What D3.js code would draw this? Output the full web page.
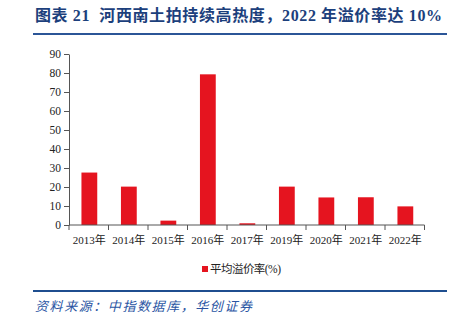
<!DOCTYPE html>
<html>
<head>
<meta charset="utf-8">
<script src="https://cdn.jsdelivr.net/npm/d3@7"></script>
<style>
  html, body { margin: 0; padding: 0; background: #fff; }
  svg { display: block; }
</style>
</head>
<body>
<svg id="chart" width="449" height="327"></svg>
<script>
// Average land-auction premium rate by year
const years = ["2013年", "2014年", "2015年", "2016年", "2017年", "2019年", "2020年", "2021年", "2022年"];
const premiumRate = [27.6, 20.2, 2.3, 79.3, 0.9, 20.2, 14.5, 14.6, 9.8];
const yTicks = [0, 10, 20, 30, 40, 50, 60, 70, 80, 90];
const seriesName = "平均溢价率(%)";
const titleText = "图表 21  河西南土拍持续高热度，2022 年溢价率达 10%";
const sourceText = "资料来源：中指数据库，华创证券";

const svg = d3.select("#chart");
const serif = "'Liberation Serif', 'Times New Roman', 'Noto Sans CJK SC', serif";
const barColor = "#e5141f";
const navy = "#1c3f7c";

// Title and rule
svg.append("text")
  .attr("x", 35).attr("y", 21)
  .attr("font-family", serif)
  .attr("font-weight", "bold")
  .attr("font-size", 16)
  .attr("fill", navy)
  .attr("textLength", 407)
  .attr("lengthAdjust", "spacing")
  .style("white-space", "pre")
  .text(titleText);

svg.append("line")
  .attr("x1", 33).attr("x2", 447).attr("y1", 34).attr("y2", 34)
  .attr("stroke", "#2b5597").attr("stroke-width", 2);

// Scales
const x = d3.scaleBand().domain(years).range([69, 424.5]).padding(0);
const y = d3.scaleLinear().domain([0, 90]).range([225, 54]);
const barW = x.bandwidth() * 0.4;

// Bars
svg.append("g").selectAll("rect")
  .data(years.map((yr, i) => ({ yr, v: premiumRate[i] })))
  .join("rect")
  .attr("x", d => x(d.yr) + (x.bandwidth() - barW) / 2 + 0.6)
  .attr("width", barW)
  .attr("y", d => y(d.v))
  .attr("height", d => y(0) - y(d.v))
  .attr("fill", barColor);

// Y axis
const yAxis = svg.append("g")
  .attr("transform", "translate(69,0)")
  .call(d3.axisLeft(y).tickValues(yTicks).tickSize(5).tickSizeOuter(0).tickPadding(3));
yAxis.select(".domain").attr("stroke", "#555");
yAxis.selectAll(".tick line").attr("stroke", "#555");
yAxis.selectAll(".tick text")
  .attr("font-family", serif).attr("font-size", 11.5).attr("fill", "#222");

// X axis with ticks on band boundaries
const xAxis = svg.append("g").attr("transform", `translate(0,${y(0)})`);
xAxis.append("line")
  .attr("x1", 69).attr("x2", 424.5)
  .attr("stroke", "#555");
const bounds = years.map(d => x(d)).concat([x(years[years.length - 1]) + x.bandwidth()]);
xAxis.selectAll(".bt").data(bounds).join("line")
  .attr("class", "bt")
  .attr("x1", d => d).attr("x2", d => d)
  .attr("y1", 0).attr("y2", 5)
  .attr("stroke", "#555");
xAxis.selectAll(".xl").data(years).join("text")
  .attr("class", "xl")
  .attr("x", d => x(d) + x.bandwidth() / 2 + 0.5)
  .attr("y", 19)
  .attr("text-anchor", "middle")
  .attr("font-family", serif)
  .attr("font-size", 11)
  .attr("fill", "#222")
  .text(d => d);

// Legend
svg.append("rect")
  .attr("x", 202).attr("y", 266).attr("width", 6).attr("height", 6)
  .attr("fill", barColor);
svg.append("text")
  .attr("x", 210).attr("y", 273)
  .attr("font-family", serif)
  .attr("font-size", 11.5)
  .attr("fill", "#222")
  .attr("textLength", 71)
  .attr("lengthAdjust", "spacing")
  .text(seriesName);

// Bottom rule and source note
svg.append("line")
  .attr("x1", 33).attr("x2", 447).attr("y1", 291).attr("y2", 291)
  .attr("stroke", "#1f4e8f").attr("stroke-width", 2);
svg.append("text")
  .attr("x", 35).attr("y", 311)
  .attr("font-family", serif)
  .attr("font-style", "italic")
  .attr("font-size", 13)
  .attr("fill", "#2a55a3")
  .attr("textLength", 217)
  .attr("lengthAdjust", "spacing")
  .text(sourceText);
</script>
</body>
</html>
